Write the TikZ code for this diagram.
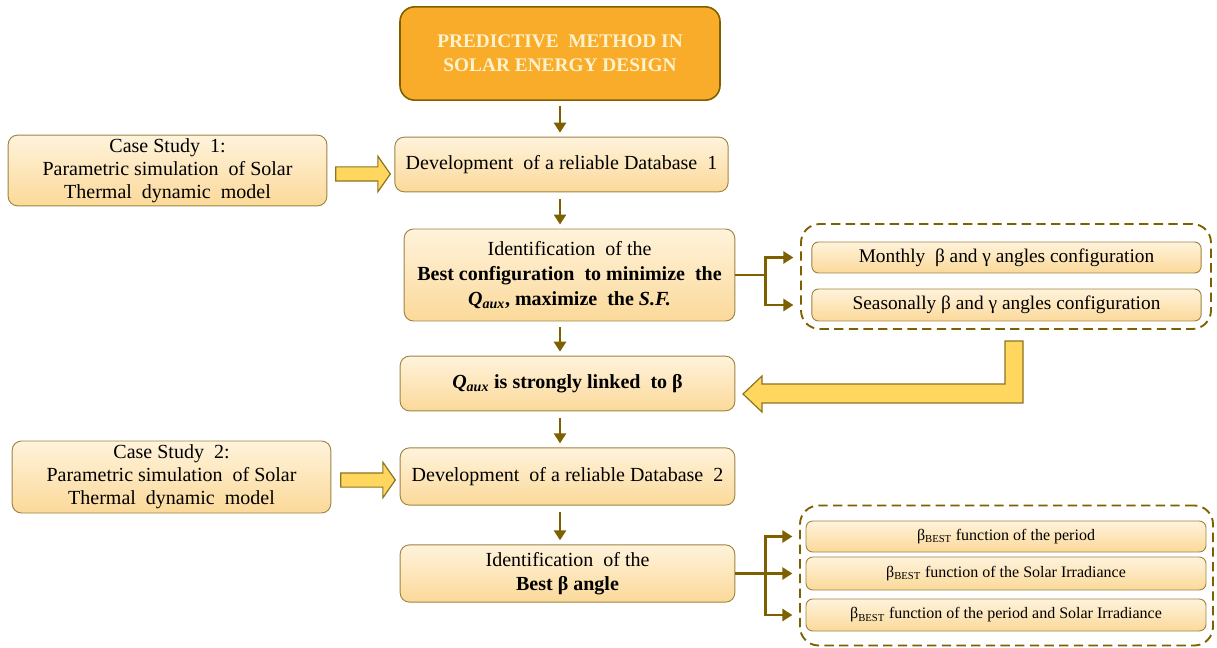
\documentclass[tikz,border=0pt]{standalone}
\usepackage{fontspec}
\setmainfont{Liberation Serif}
\usetikzlibrary{shapes.arrows,arrows.meta}

\definecolor{titlefill}{HTML}{F8AC2A}
\definecolor{titletext}{HTML}{FFF2CC}
\definecolor{linkbrown}{HTML}{7F6000}
\definecolor{boxedge}{HTML}{9C8440}
\definecolor{boxlight}{HTML}{FFF3DC}
\definecolor{boxdeep}{HTML}{FBD999}
\definecolor{fatfill}{HTML}{FFD75E}
\definecolor{fatedge}{HTML}{8C7420}

\tikzset{
    stepbox/.style={draw=boxedge, line width=0.7pt, rounded corners=7pt, top color=boxlight, bottom color=boxdeep, align=center, inner sep=2pt, font=\fontsize{15}{18}\selectfont},
    rowbox/.style={stepbox, rounded corners=5pt, font=\fontsize{14.5}{17}\selectfont},
    titlebox/.style={draw=linkbrown, line width=1.2pt, rounded corners=11pt, fill=titlefill, text=titletext, align=center, font=\bfseries\fontsize{14.5}{18}\selectfont},
    groupbox/.style={draw=linkbrown, line width=1.4pt, dash pattern=on 7pt off 4pt, rounded corners=14pt},
    fatarrow/.style={single arrow, draw=fatedge, fill=fatfill, line width=0.9pt, inner sep=0pt, text height=9.75pt, text depth=0pt, single arrow head extend=8pt, single arrow tip angle=110, minimum height=41pt},
    flow/.style={draw=linkbrown, line width=2.2pt, -{Triangle[length=7.5pt,width=9pt]}},
    link/.style={draw=linkbrown, line width=2.2pt}
}

\begin{document}
\begin{tikzpicture}[x=0.75pt, y=-0.75pt, line join=miter]
    \useasboundingbox (0,0) rectangle (1217,648);

    % main column
    \node[titlebox, minimum width=240pt, minimum height=70pt] (title) at (560,53.5) {PREDICTIVE\ \ METHOD IN\\SOLAR ENERGY DESIGN};
    \node[stepbox, minimum width=250pt, minimum height=41pt] (db1) at (561.5,164.5) {Development\ \ of a reliable Database\ \ 1};
    \node[stepbox, minimum width=248pt, minimum height=69pt, font=\fontsize{15}{18.75}\selectfont] (ident1) at (569.5,275) {Identification\ \ of the\\\textbf{Best configuration\ \ to minimize\ \ the}\\\textbf{\textit{Q}\textsubscript{\textit{aux}}, maximize\ \ the \textit{S.F.}}};
    \node[stepbox, minimum width=251pt, minimum height=41pt] (qaux) at (567.5,383.5) {\textbf{\textit{Q}\textsubscript{\textit{aux}} is strongly linked\ \ to β}};
    \node[stepbox, minimum width=251pt, minimum height=43pt] (db2) at (567.5,476.5) {Development\ \ of a reliable Database\ \ 2};
    \node[stepbox, minimum width=251pt, minimum height=43pt] (ident2) at (567.5,573.5) {Identification\ \ of the\\\textbf{Best β angle}};

    % case studies
    \node[stepbox, minimum width=239pt, minimum height=53pt, font=\fontsize{15}{17.25}\selectfont] (case1) at (167.5,170.5) {Case Study\ \ 1:\\Parametric simulation\ \ of Solar\\Thermal\ \ dynamic\ \ model};
    \node[stepbox, minimum width=239pt, minimum height=54pt, font=\fontsize{15}{17.25}\selectfont] (case2) at (171.5,477) {Case Study\ \ 2:\\Parametric simulation\ \ of Solar\\Thermal\ \ dynamic\ \ model};
    \node[fatarrow] (push1) at (360.5,174) {};
    \node[fatarrow] (push2) at (365.5,480) {};

    % angle groups
    \node[groupbox, minimum width=307.5pt, minimum height=78.75pt] (group1) at (1006,276.5) {};
    \node[rowbox, minimum width=292pt, minimum height=23.25pt] (month) at (1006.5,257.5) {Monthly\ \ β and γ angles configuration};
    \node[rowbox, minimum width=292pt, minimum height=24pt] (season) at (1006.5,305) {Seasonally β and γ angles configuration};

    \node[groupbox, minimum width=309.75pt, minimum height=105pt] (group2) at (1006.5,575.5) {};
    \node[rowbox, minimum width=300pt, minimum height=23.25pt, font=\fontsize{12}{14}\selectfont] (best1) at (1006,536.5) {β\textsubscript{BEST} function of the period};
    \node[rowbox, minimum width=300pt, minimum height=24.75pt, font=\fontsize{12}{14}\selectfont] (best2) at (1006,573.5) {β\textsubscript{BEST} function of the Solar Irradiance};
    \node[rowbox, minimum width=300pt, minimum height=24pt, font=\fontsize{12}{14}\selectfont] (best3) at (1006,615) {β\textsubscript{BEST} function of the period and Solar Irradiance};

    % downward flow
    \draw[flow, shorten <=3.75pt, shorten >=3pt] (title.south) -- (title.south |- db1.north);
    \draw[flow, shorten <=5pt, shorten >=3pt] (title |- db1.south) -- (title |- ident1.north);
    \draw[flow, shorten <=4.5pt, shorten >=3pt] (title |- ident1.south) -- (title |- qaux.north);
    \draw[flow, shorten <=5pt, shorten >=3pt] (title |- qaux.south) -- (title |- db2.north);
    \draw[flow, shorten <=5pt, shorten >=3pt] (title |- db2.south) -- (title |- ident2.north);

    % forks
    \coordinate (fork1) at ([xshift=22.5pt]ident1.east);
    \draw[link] (ident1.east) -- (fork1);
    \draw[flow, shorten >=5pt] (fork1) |- (group1.west |- month.west);
    \draw[flow, shorten >=5pt] (fork1) |- (group1.west |- season.west);

    \coordinate (fork2) at ([xshift=22.5pt]ident2.east);
    \draw[link] (ident2.east) -- (fork2);
    \draw[flow, shorten >=5pt] (fork2) |- (group2.west |- best1.west);
    \draw[flow, shorten >=5pt] (fork2) -- (group2.west |- fork2);
    \draw[flow, shorten >=5pt] (fork2) |- (group2.west |- best3.west);

    % feedback arrow
    \draw[draw=fatedge, fill=fatfill, line width=0.9pt] (1005,341) -- (1023,341) -- (1023,403) -- (762,403) -- (762,412) -- (743,394) -- (762,376) -- (762,384) -- (1005,384) -- cycle;
\end{tikzpicture}
\end{document}
